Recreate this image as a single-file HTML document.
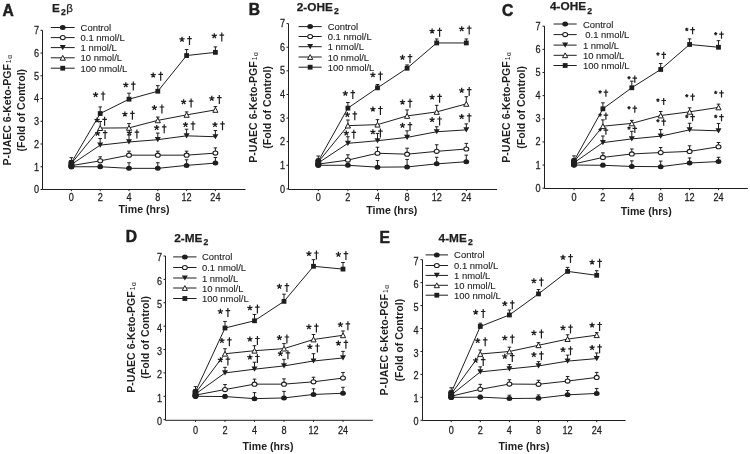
<!DOCTYPE html>
<html><head><meta charset="utf-8"><style>
html,body{margin:0;padding:0;background:#fff;}
svg{display:block;filter:grayscale(1);}
text{font-family:"Liberation Sans", sans-serif;fill:#1e1e1e;}
.r{stroke:#1e1e1e;stroke-width:0.25px;}
.r2{stroke:#1e1e1e;stroke-width:0.12px;}
</style></head><body>
<svg width="750" height="454" viewBox="0 0 750 454">
<rect width="750" height="454" fill="#fff"/>
<g><path d="M42.5 30.3V189.5H245.5" fill="none" stroke="#1e1e1e" stroke-width="1"/><path d="M40.5 189.5H42.5M40.5 166.76H42.5M40.5 144.01H42.5M40.5 121.27H42.5M40.5 98.53H42.5M40.5 75.79H42.5M40.5 53.04H42.5M40.5 30.3H42.5M71.4 189.5V191.1M100.2 189.5V191.1M129 189.5V191.1M157.8 189.5V191.1M186.6 189.5V191.1M215.4 189.5V191.1" stroke="#1e1e1e" stroke-width="1"/><text transform="translate(39 193.25) scale(0.86 1)" text-anchor="end" font-size="10.6" class="r">0</text><text transform="translate(39 170.51) scale(0.86 1)" text-anchor="end" font-size="10.6" class="r">1</text><text transform="translate(39 147.76) scale(0.86 1)" text-anchor="end" font-size="10.6" class="r">2</text><text transform="translate(39 125.02) scale(0.86 1)" text-anchor="end" font-size="10.6" class="r">3</text><text transform="translate(39 102.28) scale(0.86 1)" text-anchor="end" font-size="10.6" class="r">4</text><text transform="translate(39 79.54) scale(0.86 1)" text-anchor="end" font-size="10.6" class="r">5</text><text transform="translate(39 56.79) scale(0.86 1)" text-anchor="end" font-size="10.6" class="r">6</text><text transform="translate(39 34.05) scale(0.86 1)" text-anchor="end" font-size="10.6" class="r">7</text><text transform="translate(71.4 200.6) scale(0.86 1)" text-anchor="middle" font-size="10.6" class="r">0</text><text transform="translate(100.2 200.6) scale(0.86 1)" text-anchor="middle" font-size="10.6" class="r">2</text><text transform="translate(129 200.6) scale(0.86 1)" text-anchor="middle" font-size="10.6" class="r">4</text><text transform="translate(157.8 200.6) scale(0.86 1)" text-anchor="middle" font-size="10.6" class="r">8</text><text transform="translate(186.6 200.6) scale(0.86 1)" text-anchor="middle" font-size="10.6" class="r">12</text><text transform="translate(215.4 200.6) scale(0.86 1)" text-anchor="middle" font-size="10.6" class="r">24</text><text x="144.1" y="212.7" text-anchor="middle" font-size="10.6" font-weight="bold">Time (hrs)</text><text transform="translate(10.9 165.5) rotate(-90)" text-anchor="start" font-size="10.55" font-weight="bold">P-UAEC 6-Keto-PGF<tspan font-size="6.6" font-weight="normal" dx="1">1</tspan><tspan font-size="6.6" font-weight="normal" dx="0.6" dy="1.2">α</tspan></text><text transform="translate(24.8 110.2) rotate(-90)" text-anchor="middle" font-size="10.55" font-weight="bold">(Fold of Control)</text><text x="2.5" y="15.6" font-size="15.6" font-weight="bold" style="stroke:#1e1e1e;stroke-width:0.5px">A</text><text x="51.9" y="11.5" font-size="11.8" font-weight="bold" class="r">E<tspan font-size="8.6" dx="1.2" dy="3.4">2</tspan><tspan font-size="11.5" font-weight="normal" dx="0.6" dy="-3.4">β</tspan></text><path d="M50.8 27.5H74.7" stroke="#1e1e1e" stroke-width="1"/><ellipse cx="62.75" cy="27.5" rx="2.9" ry="2.5" fill="#1e1e1e"/><text transform="translate(80.6 31) scale(0.955 1)" font-size="9.9" class="r2">Control</text><path d="M50.8 37.6H74.7" stroke="#1e1e1e" stroke-width="1"/><ellipse cx="62.75" cy="37.6" rx="2.45" ry="2.05" fill="#fff" stroke="#1e1e1e" stroke-width="1.1"/><text transform="translate(80.6 41.1) scale(0.955 1)" font-size="9.9" class="r2">0.1 nmol/L</text><path d="M50.8 47.6H74.7" stroke="#1e1e1e" stroke-width="1"/><path d="M59.75 45H65.75L62.75 50.2Z" fill="#1e1e1e"/><text transform="translate(80.6 51.1) scale(0.955 1)" font-size="9.9" class="r2">1 nmol/L</text><path d="M50.8 57.8H74.7" stroke="#1e1e1e" stroke-width="1"/><path d="M60.15 60.2H65.35L62.75 55.4Z" fill="#fff" stroke="#1e1e1e" stroke-width="1" stroke-linejoin="miter"/><text transform="translate(80.6 61.3) scale(0.955 1)" font-size="9.9" class="r2">10 nmol/L</text><path d="M50.8 68.2H74.7" stroke="#1e1e1e" stroke-width="1"/><rect x="60.35" y="65.8" width="4.8" height="4.8" fill="#1e1e1e"/><text transform="translate(80.6 71.7) scale(0.955 1)" font-size="9.9" class="r2">100 nmol/L</text><polyline points="71.4,166.76 100.2,166.76 129,168.35 157.8,168.35 186.6,165.39 215.4,163.12" fill="none" stroke="#1e1e1e" stroke-width="1"/><polyline points="71.4,165.62 100.2,160.84 129,155.16 157.8,155.16 186.6,155.16 215.4,153.11" fill="none" stroke="#1e1e1e" stroke-width="1"/><polyline points="71.4,164.48 100.2,145.15 129,141.97 157.8,139.69 186.6,135.83 215.4,136.74" fill="none" stroke="#1e1e1e" stroke-width="1"/><polyline points="71.4,163.57 100.2,128.09 129,127.87 157.8,120.36 186.6,114.9 215.4,109.9" fill="none" stroke="#1e1e1e" stroke-width="1"/><polyline points="71.4,162.66 100.2,113.54 129,99.21 157.8,91.25 186.6,55.54 215.4,52.36" fill="none" stroke="#1e1e1e" stroke-width="1"/><path d="M71.4 166.76V164.76M69.6 164.76H73.2M100.2 166.76V164.76M98.4 164.76H102M129 168.35V162.75M127.2 162.75H130.8M157.8 168.35V162.75M156 162.75H159.6M186.6 165.39V159.79M184.8 159.79H188.4M215.4 163.12V157.52M213.6 157.52H217.2M71.4 165.62V163.62M69.6 163.62H73.2M100.2 160.84V156.84M98.4 156.84H102M129 155.16V151.16M127.2 151.16H130.8M157.8 155.16V151.16M156 151.16H159.6M186.6 155.16V151.16M184.8 151.16H188.4M215.4 153.11V147.91M213.6 147.91H217.2M71.4 164.48V162.48M69.6 162.48H73.2M100.2 145.15V138.55M98.4 138.55H102M129 141.97V134.97M127.2 134.97H130.8M157.8 139.69V133.09M156 133.09H159.6M186.6 135.83V129.23M184.8 129.23H188.4M215.4 136.74V130.54M213.6 130.54H217.2M71.4 163.57V160.57M69.6 160.57H73.2M100.2 128.09V121.49M98.4 121.49H102M129 127.87V123.57M127.2 123.57H130.8M157.8 120.36V117.06M156 117.06H159.6M186.6 114.9V111.9M184.8 111.9H188.4M215.4 109.9V106.6M213.6 106.6H217.2M71.4 162.66V157.66M69.6 157.66H73.2M100.2 113.54V106.94M98.4 106.94H102M129 99.21V93.21M127.2 93.21H130.8M157.8 91.25V85.65M156 85.65H159.6M186.6 55.54V49.54M184.8 49.54H188.4M215.4 52.36V46.86M213.6 46.86H217.2" stroke="#1e1e1e" stroke-width="1" fill="none"/><ellipse cx="71.4" cy="166.76" rx="2.9" ry="2.5" fill="#1e1e1e"/><ellipse cx="100.2" cy="166.76" rx="2.9" ry="2.5" fill="#1e1e1e"/><ellipse cx="129" cy="168.35" rx="2.9" ry="2.5" fill="#1e1e1e"/><ellipse cx="157.8" cy="168.35" rx="2.9" ry="2.5" fill="#1e1e1e"/><ellipse cx="186.6" cy="165.39" rx="2.9" ry="2.5" fill="#1e1e1e"/><ellipse cx="215.4" cy="163.12" rx="2.9" ry="2.5" fill="#1e1e1e"/><ellipse cx="71.4" cy="165.62" rx="2.45" ry="2.05" fill="#fff" stroke="#1e1e1e" stroke-width="1.1"/><ellipse cx="100.2" cy="160.84" rx="2.45" ry="2.05" fill="#fff" stroke="#1e1e1e" stroke-width="1.1"/><ellipse cx="129" cy="155.16" rx="2.45" ry="2.05" fill="#fff" stroke="#1e1e1e" stroke-width="1.1"/><ellipse cx="157.8" cy="155.16" rx="2.45" ry="2.05" fill="#fff" stroke="#1e1e1e" stroke-width="1.1"/><ellipse cx="186.6" cy="155.16" rx="2.45" ry="2.05" fill="#fff" stroke="#1e1e1e" stroke-width="1.1"/><ellipse cx="215.4" cy="153.11" rx="2.45" ry="2.05" fill="#fff" stroke="#1e1e1e" stroke-width="1.1"/><path d="M68.4 161.88H74.4L71.4 167.08Z" fill="#1e1e1e"/><path d="M97.2 142.55H103.2L100.2 147.75Z" fill="#1e1e1e"/><path d="M126 139.37H132L129 144.57Z" fill="#1e1e1e"/><path d="M154.8 137.09H160.8L157.8 142.29Z" fill="#1e1e1e"/><path d="M183.6 133.23H189.6L186.6 138.43Z" fill="#1e1e1e"/><path d="M212.4 134.14H218.4L215.4 139.34Z" fill="#1e1e1e"/><path d="M68.8 165.97H74L71.4 161.17Z" fill="#fff" stroke="#1e1e1e" stroke-width="1" stroke-linejoin="miter"/><path d="M97.6 130.49H102.8L100.2 125.69Z" fill="#fff" stroke="#1e1e1e" stroke-width="1" stroke-linejoin="miter"/><path d="M126.4 130.27H131.6L129 125.47Z" fill="#fff" stroke="#1e1e1e" stroke-width="1" stroke-linejoin="miter"/><path d="M155.2 122.76H160.4L157.8 117.96Z" fill="#fff" stroke="#1e1e1e" stroke-width="1" stroke-linejoin="miter"/><path d="M184 117.3H189.2L186.6 112.5Z" fill="#fff" stroke="#1e1e1e" stroke-width="1" stroke-linejoin="miter"/><path d="M212.8 112.3H218L215.4 107.5Z" fill="#fff" stroke="#1e1e1e" stroke-width="1" stroke-linejoin="miter"/><rect x="69" y="160.26" width="4.8" height="4.8" fill="#1e1e1e"/><rect x="97.8" y="111.14" width="4.8" height="4.8" fill="#1e1e1e"/><rect x="126.6" y="96.81" width="4.8" height="4.8" fill="#1e1e1e"/><rect x="155.4" y="88.85" width="4.8" height="4.8" fill="#1e1e1e"/><rect x="184.2" y="53.14" width="4.8" height="4.8" fill="#1e1e1e"/><rect x="213" y="49.96" width="4.8" height="4.8" fill="#1e1e1e"/><rect x="68.4" y="160.06" width="6" height="9.29" rx="2.8" ry="2.8" fill="#1e1e1e"/><path d="M97.6 133.4L97.6 130.7M97.6 133.4L100.17 132.57M97.6 133.4L95.03 132.57M97.6 133.4L99.19 135.58M97.6 133.4L96.01 135.58M129.4 132.9L129.4 130.2M129.4 132.9L131.97 132.07M129.4 132.9L126.83 132.07M129.4 132.9L130.99 135.08M129.4 132.9L127.81 135.08M156.7 127.7L156.7 125M156.7 127.7L159.27 126.87M156.7 127.7L154.13 126.87M156.7 127.7L158.29 129.88M156.7 127.7L155.11 129.88M185.5 124.7L185.5 122M185.5 124.7L188.07 123.87M185.5 124.7L182.93 123.87M185.5 124.7L187.09 126.88M185.5 124.7L183.91 126.88M215 124.7L215 122M215 124.7L217.57 123.87M215 124.7L212.43 123.87M215 124.7L216.59 126.88M215 124.7L213.41 126.88M97.1 120.2L97.1 117.5M97.1 120.2L99.67 119.37M97.1 120.2L94.53 119.37M97.1 120.2L98.69 122.38M97.1 120.2L95.51 122.38M124.9 114.2L124.9 111.5M124.9 114.2L127.47 113.37M124.9 114.2L122.33 113.37M124.9 114.2L126.49 116.38M124.9 114.2L123.31 116.38M154.4 107.8L154.4 105.1M154.4 107.8L156.97 106.97M154.4 107.8L151.83 106.97M154.4 107.8L155.99 109.98M154.4 107.8L152.81 109.98M183.6 101.9L183.6 99.2M183.6 101.9L186.17 101.07M183.6 101.9L181.03 101.07M183.6 101.9L185.19 104.08M183.6 101.9L182.01 104.08M211.8 98.5L211.8 95.8M211.8 98.5L214.37 97.67M211.8 98.5L209.23 97.67M211.8 98.5L213.39 100.68M211.8 98.5L210.21 100.68M95.6 94.8L95.6 92.1M95.6 94.8L98.17 93.97M95.6 94.8L93.03 93.97M95.6 94.8L97.19 96.98M95.6 94.8L94.01 96.98M125.8 84.9L125.8 82.2M125.8 84.9L128.37 84.07M125.8 84.9L123.23 84.07M125.8 84.9L127.39 87.08M125.8 84.9L124.21 87.08M153.2 75.1L153.2 72.4M153.2 75.1L155.77 74.27M153.2 75.1L150.63 74.27M153.2 75.1L154.79 77.28M153.2 75.1L151.61 77.28M182 39.4L182 36.7M182 39.4L184.57 38.57M182 39.4L179.43 38.57M182 39.4L183.59 41.58M182 39.4L180.41 41.58M214.3 35.9L214.3 33.2M214.3 35.9L216.87 35.07M214.3 35.9L211.73 35.07M214.3 35.9L215.89 38.08M214.3 35.9L212.71 38.08" stroke="#1e1e1e" stroke-width="1.3" fill="none"/><path d="M105.1 130V139M102.8 132.6H107.4M136.9 129.5V138.5M134.6 132.1H139.2M164.2 124.3V133.3M161.9 126.9H166.5M193 121.3V130.3M190.7 123.9H195.3M222.5 121.3V130.3M220.2 123.9H224.8M104.6 116.8V125.8M102.3 119.4H106.9M132.4 110.8V119.8M130.1 113.4H134.7M161.9 104.4V113.4M159.6 107H164.2M191.1 98.5V107.5M188.8 101.1H193.4M219.3 95.1V104.1M217 97.7H221.6M103.1 91.4V100.4M100.8 94H105.4M133.3 81.5V90.5M131 84.1H135.6M160.7 71.7V80.7M158.4 74.3H163M189.5 36V45M187.2 38.6H191.8M221.8 32.5V41.5M219.5 35.1H224.1" stroke="#1e1e1e" stroke-width="1.2" fill="none"/></g><g><path d="M288.5 23.6V189.5H497.1" fill="none" stroke="#1e1e1e" stroke-width="1"/><path d="M286.5 188.9H288.5M286.5 165.29H288.5M286.5 141.67H288.5M286.5 118.06H288.5M286.5 94.44H288.5M286.5 70.83H288.5M286.5 47.21H288.5M286.5 23.6H288.5M318.3 189.5V191.1M347.9 189.5V191.1M377.5 189.5V191.1M407.1 189.5V191.1M436.7 189.5V191.1M466.3 189.5V191.1" stroke="#1e1e1e" stroke-width="1"/><text transform="translate(285 192.55) scale(0.86 1)" text-anchor="end" font-size="10.6" class="r">0</text><text transform="translate(285 168.94) scale(0.86 1)" text-anchor="end" font-size="10.6" class="r">1</text><text transform="translate(285 145.32) scale(0.86 1)" text-anchor="end" font-size="10.6" class="r">2</text><text transform="translate(285 121.71) scale(0.86 1)" text-anchor="end" font-size="10.6" class="r">3</text><text transform="translate(285 98.09) scale(0.86 1)" text-anchor="end" font-size="10.6" class="r">4</text><text transform="translate(285 74.48) scale(0.86 1)" text-anchor="end" font-size="10.6" class="r">5</text><text transform="translate(285 50.86) scale(0.86 1)" text-anchor="end" font-size="10.6" class="r">6</text><text transform="translate(285 27.25) scale(0.86 1)" text-anchor="end" font-size="10.6" class="r">7</text><text transform="translate(318.3 201.2) scale(0.86 1)" text-anchor="middle" font-size="10.6" class="r">0</text><text transform="translate(347.9 201.2) scale(0.86 1)" text-anchor="middle" font-size="10.6" class="r">2</text><text transform="translate(377.5 201.2) scale(0.86 1)" text-anchor="middle" font-size="10.6" class="r">4</text><text transform="translate(407.1 201.2) scale(0.86 1)" text-anchor="middle" font-size="10.6" class="r">8</text><text transform="translate(436.7 201.2) scale(0.86 1)" text-anchor="middle" font-size="10.6" class="r">12</text><text transform="translate(466.3 201.2) scale(0.86 1)" text-anchor="middle" font-size="10.6" class="r">24</text><text x="391.8" y="213.9" text-anchor="middle" font-size="10.6" font-weight="bold">Time (hrs)</text><text transform="translate(256.6 162.7) rotate(-90)" text-anchor="start" font-size="10.55" font-weight="bold">P-UAEC 6-Keto-PGF<tspan font-size="6.6" font-weight="normal" dx="1">1</tspan><tspan font-size="6.6" font-weight="normal" dx="0.6" dy="1.2">α</tspan></text><text transform="translate(270.5 107.4) rotate(-90)" text-anchor="middle" font-size="10.55" font-weight="bold">(Fold of Control)</text><text x="248.8" y="15.2" font-size="15.6" font-weight="bold" style="stroke:#1e1e1e;stroke-width:0.5px">B</text><text x="296.8" y="11" font-size="11.8" font-weight="bold" class="r">2-OHE<tspan font-size="8.6" dx="1.2" dy="3.4">2</tspan></text><path d="M298.6 26.6H321.7" stroke="#1e1e1e" stroke-width="1"/><ellipse cx="310.15" cy="26.6" rx="2.9" ry="2.5" fill="#1e1e1e"/><text transform="translate(327.7 30.1) scale(0.955 1)" font-size="9.9" class="r2">Control</text><path d="M298.6 36.5H321.7" stroke="#1e1e1e" stroke-width="1"/><ellipse cx="310.15" cy="36.5" rx="2.45" ry="2.05" fill="#fff" stroke="#1e1e1e" stroke-width="1.1"/><text transform="translate(327.7 40) scale(0.955 1)" font-size="9.9" class="r2">0.1 nmol/L</text><path d="M298.6 46.7H321.7" stroke="#1e1e1e" stroke-width="1"/><path d="M307.15 44.1H313.15L310.15 49.3Z" fill="#1e1e1e"/><text transform="translate(327.7 50.2) scale(0.955 1)" font-size="9.9" class="r2">1 nmol/L</text><path d="M298.6 57H321.7" stroke="#1e1e1e" stroke-width="1"/><path d="M307.55 59.4H312.75L310.15 54.6Z" fill="#fff" stroke="#1e1e1e" stroke-width="1" stroke-linejoin="miter"/><text transform="translate(327.7 60.5) scale(0.955 1)" font-size="9.9" class="r2">10 nmol/L</text><path d="M298.6 67.2H321.7" stroke="#1e1e1e" stroke-width="1"/><rect x="307.75" y="64.8" width="4.8" height="4.8" fill="#1e1e1e"/><text transform="translate(327.7 70.7) scale(0.955 1)" font-size="9.9" class="r2">100 nmol/L</text><polyline points="318.3,165.29 347.9,165.29 377.5,167.17 407.1,166.94 436.7,163.87 466.3,161.74" fill="none" stroke="#1e1e1e" stroke-width="1"/><polyline points="318.3,164.1 347.9,160.09 377.5,153.24 407.1,154.19 436.7,151.35 466.3,148.99" fill="none" stroke="#1e1e1e" stroke-width="1"/><polyline points="318.3,162.92 347.9,143.32 377.5,140.73 407.1,137.42 436.7,131.75 466.3,129.86" fill="none" stroke="#1e1e1e" stroke-width="1"/><polyline points="318.3,161.98 347.9,125.61 377.5,124.67 407.1,115.93 436.7,111.92 466.3,103.89" fill="none" stroke="#1e1e1e" stroke-width="1"/><polyline points="318.3,161.04 347.9,108.14 377.5,87.83 407.1,68.23 436.7,42.96 466.3,42.96" fill="none" stroke="#1e1e1e" stroke-width="1"/><path d="M318.3 165.29V163.29M316.5 163.29H320.1M347.9 165.29V163.29M346.1 163.29H349.7M377.5 167.17V160.57M375.7 160.57H379.3M407.1 166.94V159.44M405.3 159.44H408.9M436.7 163.87V157.27M434.9 157.27H438.5M466.3 161.74V155.14M464.5 155.14H468.1M318.3 164.1V162.1M316.5 162.1H320.1M347.9 160.09V154.79M346.1 154.79H349.7M377.5 153.24V147.24M375.7 147.24H379.3M407.1 154.19V148.19M405.3 148.19H408.9M436.7 151.35V144.75M434.9 144.75H438.5M466.3 148.99V143.39M464.5 143.39H468.1M318.3 162.92V160.92M316.5 160.92H320.1M347.9 143.32V136.72M346.1 136.72H349.7M377.5 140.73V133.43M375.7 133.43H379.3M407.1 137.42V130.82M405.3 130.82H408.9M436.7 131.75V126.75M434.9 126.75H438.5M466.3 129.86V123.86M464.5 123.86H468.1M318.3 161.98V158.98M316.5 158.98H320.1M347.9 125.61V120.01M346.1 120.01H349.7M377.5 124.67V119.67M375.7 119.67H379.3M407.1 115.93V109.93M405.3 109.93H408.9M436.7 111.92V105.32M434.9 105.32H438.5M466.3 103.89V96.69M464.5 96.69H468.1M318.3 161.04V156.04M316.5 156.04H320.1M347.9 108.14V102.54M346.1 102.54H349.7M377.5 87.83V84.53M375.7 84.53H379.3M407.1 68.23V64.93M405.3 64.93H408.9M436.7 42.96V38.96M434.9 38.96H438.5M466.3 42.96V38.96M464.5 38.96H468.1" stroke="#1e1e1e" stroke-width="1" fill="none"/><ellipse cx="318.3" cy="165.29" rx="2.9" ry="2.5" fill="#1e1e1e"/><ellipse cx="347.9" cy="165.29" rx="2.9" ry="2.5" fill="#1e1e1e"/><ellipse cx="377.5" cy="167.17" rx="2.9" ry="2.5" fill="#1e1e1e"/><ellipse cx="407.1" cy="166.94" rx="2.9" ry="2.5" fill="#1e1e1e"/><ellipse cx="436.7" cy="163.87" rx="2.9" ry="2.5" fill="#1e1e1e"/><ellipse cx="466.3" cy="161.74" rx="2.9" ry="2.5" fill="#1e1e1e"/><ellipse cx="318.3" cy="164.1" rx="2.45" ry="2.05" fill="#fff" stroke="#1e1e1e" stroke-width="1.1"/><ellipse cx="347.9" cy="160.09" rx="2.45" ry="2.05" fill="#fff" stroke="#1e1e1e" stroke-width="1.1"/><ellipse cx="377.5" cy="153.24" rx="2.45" ry="2.05" fill="#fff" stroke="#1e1e1e" stroke-width="1.1"/><ellipse cx="407.1" cy="154.19" rx="2.45" ry="2.05" fill="#fff" stroke="#1e1e1e" stroke-width="1.1"/><ellipse cx="436.7" cy="151.35" rx="2.45" ry="2.05" fill="#fff" stroke="#1e1e1e" stroke-width="1.1"/><ellipse cx="466.3" cy="148.99" rx="2.45" ry="2.05" fill="#fff" stroke="#1e1e1e" stroke-width="1.1"/><path d="M315.3 160.32H321.3L318.3 165.52Z" fill="#1e1e1e"/><path d="M344.9 140.72H350.9L347.9 145.92Z" fill="#1e1e1e"/><path d="M374.5 138.13H380.5L377.5 143.33Z" fill="#1e1e1e"/><path d="M404.1 134.82H410.1L407.1 140.02Z" fill="#1e1e1e"/><path d="M433.7 129.15H439.7L436.7 134.35Z" fill="#1e1e1e"/><path d="M463.3 127.26H469.3L466.3 132.46Z" fill="#1e1e1e"/><path d="M315.7 164.38H320.9L318.3 159.58Z" fill="#fff" stroke="#1e1e1e" stroke-width="1" stroke-linejoin="miter"/><path d="M345.3 128.01H350.5L347.9 123.21Z" fill="#fff" stroke="#1e1e1e" stroke-width="1" stroke-linejoin="miter"/><path d="M374.9 127.07H380.1L377.5 122.27Z" fill="#fff" stroke="#1e1e1e" stroke-width="1" stroke-linejoin="miter"/><path d="M404.5 118.33H409.7L407.1 113.53Z" fill="#fff" stroke="#1e1e1e" stroke-width="1" stroke-linejoin="miter"/><path d="M434.1 114.32H439.3L436.7 109.52Z" fill="#fff" stroke="#1e1e1e" stroke-width="1" stroke-linejoin="miter"/><path d="M463.7 106.29H468.9L466.3 101.49Z" fill="#fff" stroke="#1e1e1e" stroke-width="1" stroke-linejoin="miter"/><rect x="315.9" y="158.64" width="4.8" height="4.8" fill="#1e1e1e"/><rect x="345.5" y="105.74" width="4.8" height="4.8" fill="#1e1e1e"/><rect x="375.1" y="85.43" width="4.8" height="4.8" fill="#1e1e1e"/><rect x="404.7" y="65.83" width="4.8" height="4.8" fill="#1e1e1e"/><rect x="434.3" y="40.56" width="4.8" height="4.8" fill="#1e1e1e"/><rect x="463.9" y="40.56" width="4.8" height="4.8" fill="#1e1e1e"/><rect x="315.3" y="158.44" width="6" height="9.45" rx="2.8" ry="2.8" fill="#1e1e1e"/><path d="M346.3 133.1L346.3 130.4M346.3 133.1L348.87 132.27M346.3 133.1L343.73 132.27M346.3 133.1L347.89 135.28M346.3 133.1L344.71 135.28M372.9 132L372.9 129.3M372.9 132L375.47 131.17M372.9 132L370.33 131.17M372.9 132L374.49 134.18M372.9 132L371.31 134.18M402.5 125.4L402.5 122.7M402.5 125.4L405.07 124.57M402.5 125.4L399.93 124.57M402.5 125.4L404.09 127.58M402.5 125.4L400.91 127.58M432.1 119.8L432.1 117.1M432.1 119.8L434.67 118.97M432.1 119.8L429.53 118.97M432.1 119.8L433.69 121.98M432.1 119.8L430.51 121.98M461.7 116.6L461.7 113.9M461.7 116.6L464.27 115.77M461.7 116.6L459.13 115.77M461.7 116.6L463.29 118.78M461.7 116.6L460.11 118.78M347.3 114.6L347.3 111.9M347.3 114.6L349.87 113.77M347.3 114.6L344.73 113.77M347.3 114.6L348.89 116.78M347.3 114.6L345.71 116.78M372.9 109.3L372.9 106.6M372.9 109.3L375.47 108.47M372.9 109.3L370.33 108.47M372.9 109.3L374.49 111.48M372.9 109.3L371.31 111.48M402.5 102.2L402.5 99.5M402.5 102.2L405.07 101.37M402.5 102.2L399.93 101.37M402.5 102.2L404.09 104.38M402.5 102.2L400.91 104.38M432.1 97.1L432.1 94.4M432.1 97.1L434.67 96.27M432.1 97.1L429.53 96.27M432.1 97.1L433.69 99.28M432.1 97.1L430.51 99.28M461.7 90.5L461.7 87.8M461.7 90.5L464.27 89.67M461.7 90.5L459.13 89.67M461.7 90.5L463.29 92.68M461.7 90.5L460.11 92.68M345.3 93.4L345.3 90.7M345.3 93.4L347.87 92.57M345.3 93.4L342.73 92.57M345.3 93.4L346.89 95.58M345.3 93.4L343.71 95.58M372.9 74.9L372.9 72.2M372.9 74.9L375.47 74.07M372.9 74.9L370.33 74.07M372.9 74.9L374.49 77.08M372.9 74.9L371.31 77.08M402.5 57.5L402.5 54.8M402.5 57.5L405.07 56.67M402.5 57.5L399.93 56.67M402.5 57.5L404.09 59.68M402.5 57.5L400.91 59.68M432.1 31.1L432.1 28.4M432.1 31.1L434.67 30.27M432.1 31.1L429.53 30.27M432.1 31.1L433.69 33.28M432.1 31.1L430.51 33.28M461.7 28.9L461.7 26.2M461.7 28.9L464.27 28.07M461.7 28.9L459.13 28.07M461.7 28.9L463.29 31.08M461.7 28.9L460.11 31.08" stroke="#1e1e1e" stroke-width="1.3" fill="none"/><path d="M353.8 129.7V138.7M351.5 132.3H356.1M380.4 128.6V137.6M378.1 131.2H382.7M410 122V131M407.7 124.6H412.3M439.6 116.4V125.4M437.3 119H441.9M469.2 113.2V122.2M466.9 115.8H471.5M354.8 111.2V120.2M352.5 113.8H357.1M380.4 105.9V114.9M378.1 108.5H382.7M410 98.8V107.8M407.7 101.4H412.3M439.6 93.7V102.7M437.3 96.3H441.9M469.2 87.1V96.1M466.9 89.7H471.5M352.8 90V99M350.5 92.6H355.1M380.4 71.5V80.5M378.1 74.1H382.7M410 54.1V63.1M407.7 56.7H412.3M439.6 27.7V36.7M437.3 30.3H441.9M469.2 25.5V34.5M466.9 28.1H471.5" stroke="#1e1e1e" stroke-width="1.2" fill="none"/></g><g><path d="M544.5 26.2V188.5H747.8" fill="none" stroke="#1e1e1e" stroke-width="1"/><path d="M542.5 188.2H544.5M542.5 165.06H544.5M542.5 141.91H544.5M542.5 118.77H544.5M542.5 95.63H544.5M542.5 72.49H544.5M542.5 49.34H544.5M542.5 26.2H544.5M574 188.5V190.1M602.9 188.5V190.1M631.8 188.5V190.1M660.7 188.5V190.1M689.6 188.5V190.1M718.5 188.5V190.1" stroke="#1e1e1e" stroke-width="1"/><text transform="translate(540.6 191.65) scale(0.86 1)" text-anchor="end" font-size="10.6" class="r">0</text><text transform="translate(540.6 168.51) scale(0.86 1)" text-anchor="end" font-size="10.6" class="r">1</text><text transform="translate(540.6 145.36) scale(0.86 1)" text-anchor="end" font-size="10.6" class="r">2</text><text transform="translate(540.6 122.22) scale(0.86 1)" text-anchor="end" font-size="10.6" class="r">3</text><text transform="translate(540.6 99.08) scale(0.86 1)" text-anchor="end" font-size="10.6" class="r">4</text><text transform="translate(540.6 75.94) scale(0.86 1)" text-anchor="end" font-size="10.6" class="r">5</text><text transform="translate(540.6 52.79) scale(0.86 1)" text-anchor="end" font-size="10.6" class="r">6</text><text transform="translate(540.6 29.65) scale(0.86 1)" text-anchor="end" font-size="10.6" class="r">7</text><text transform="translate(574 200.9) scale(0.86 1)" text-anchor="middle" font-size="10.6" class="r">0</text><text transform="translate(602.9 200.9) scale(0.86 1)" text-anchor="middle" font-size="10.6" class="r">2</text><text transform="translate(631.8 200.9) scale(0.86 1)" text-anchor="middle" font-size="10.6" class="r">4</text><text transform="translate(660.7 200.9) scale(0.86 1)" text-anchor="middle" font-size="10.6" class="r">8</text><text transform="translate(689.6 200.9) scale(0.86 1)" text-anchor="middle" font-size="10.6" class="r">12</text><text transform="translate(718.5 200.9) scale(0.86 1)" text-anchor="middle" font-size="10.6" class="r">24</text><text x="646.2" y="214.6" text-anchor="middle" font-size="10.6" font-weight="bold">Time (hrs)</text><text transform="translate(510 162.7) rotate(-90)" text-anchor="start" font-size="10.55" font-weight="bold">P-UAEC 6-Keto-PGF<tspan font-size="6.6" font-weight="normal" dx="1">1</tspan><tspan font-size="6.6" font-weight="normal" dx="0.6" dy="1.2">α</tspan></text><text transform="translate(524.6 107.4) rotate(-90)" text-anchor="middle" font-size="10.55" font-weight="bold">(Fold of Control)</text><text x="502" y="15.6" font-size="15.6" font-weight="bold" style="stroke:#1e1e1e;stroke-width:0.5px">C</text><text x="550" y="10.2" font-size="11.8" font-weight="bold" class="r">4-OHE<tspan font-size="8.6" dx="1.2" dy="3.4">2</tspan></text><path d="M553.6 24H576.7" stroke="#1e1e1e" stroke-width="1"/><ellipse cx="565.15" cy="24" rx="2.9" ry="2.5" fill="#1e1e1e"/><text transform="translate(582.9 27.5) scale(0.955 1)" font-size="9.9" class="r2">Control</text><path d="M553.6 34.6H576.7" stroke="#1e1e1e" stroke-width="1"/><ellipse cx="565.15" cy="34.6" rx="2.45" ry="2.05" fill="#fff" stroke="#1e1e1e" stroke-width="1.1"/><text transform="translate(585.3 38.1) scale(0.955 1)" font-size="9.9" class="r2">0.1 nmol/L</text><path d="M553.6 45.1H576.7" stroke="#1e1e1e" stroke-width="1"/><path d="M562.15 42.5H568.15L565.15 47.7Z" fill="#1e1e1e"/><text transform="translate(582.9 48.6) scale(0.955 1)" font-size="9.9" class="r2">1 nmol/L</text><path d="M553.6 55.3H576.7" stroke="#1e1e1e" stroke-width="1"/><path d="M562.55 57.7H567.75L565.15 52.9Z" fill="#fff" stroke="#1e1e1e" stroke-width="1" stroke-linejoin="miter"/><text transform="translate(582.9 58.8) scale(0.955 1)" font-size="9.9" class="r2">10 nmol/L</text><path d="M553.6 65.5H576.7" stroke="#1e1e1e" stroke-width="1"/><rect x="562.75" y="63.1" width="4.8" height="4.8" fill="#1e1e1e"/><text transform="translate(582.9 69) scale(0.955 1)" font-size="9.9" class="r2">100 nmol/L</text><polyline points="574,165.06 602.9,165.29 631.8,166.45 660.7,166.68 689.6,162.97 718.5,161.59" fill="none" stroke="#1e1e1e" stroke-width="1"/><polyline points="574,163.9 602.9,157.42 631.8,153.95 660.7,152.56 689.6,151.4 718.5,146.77" fill="none" stroke="#1e1e1e" stroke-width="1"/><polyline points="574,162.74 602.9,142.61 631.8,138.91 660.7,136.13 689.6,129.88 718.5,130.81" fill="none" stroke="#1e1e1e" stroke-width="1"/><polyline points="574,161.82 602.9,126.18 631.8,123.4 660.7,115.53 689.6,111.83 718.5,107.43" fill="none" stroke="#1e1e1e" stroke-width="1"/><polyline points="574,160.89 602.9,108.82 631.8,87.76 660.7,69.48 689.6,44.48 718.5,47.26" fill="none" stroke="#1e1e1e" stroke-width="1"/><path d="M574 165.06V163.06M572.2 163.06H575.8M602.9 165.29V163.29M601.1 163.29H604.7M631.8 166.45V160.85M630 160.85H633.6M660.7 166.68V161.08M658.9 161.08H662.5M689.6 162.97V157.97M687.8 157.97H691.4M718.5 161.59V157.29M716.7 157.29H720.3M574 163.9V161.9M572.2 161.9H575.8M602.9 157.42V152.82M601.1 152.82H604.7M631.8 153.95V148.95M630 148.95H633.6M660.7 152.56V147.56M658.9 147.56H662.5M689.6 151.4V145.8M687.8 145.8H691.4M718.5 146.77V142.47M716.7 142.47H720.3M574 162.74V160.74M572.2 160.74H575.8M602.9 142.61V136.01M601.1 136.01H604.7M631.8 138.91V131.31M630 131.31H633.6M660.7 136.13V129.53M658.9 129.53H662.5M689.6 129.88V123.28M687.8 123.28H691.4M718.5 130.81V123.51M716.7 123.51H720.3M574 161.82V158.82M572.2 158.82H575.8M602.9 126.18V119.88M601.1 119.88H604.7M631.8 123.4V120.4M630 120.4H633.6M660.7 115.53V111.53M658.9 111.53H662.5M689.6 111.83V107.83M687.8 107.83H691.4M718.5 107.43V104.13M716.7 104.13H720.3M574 160.89V155.89M572.2 155.89H575.8M602.9 108.82V102.82M601.1 102.82H604.7M631.8 87.76V81.16M630 81.16H633.6M660.7 69.48V63.48M658.9 63.48H662.5M689.6 44.48V38.88M687.8 38.88H691.4M718.5 47.26V40.66M716.7 40.66H720.3" stroke="#1e1e1e" stroke-width="1" fill="none"/><ellipse cx="574" cy="165.06" rx="2.9" ry="2.5" fill="#1e1e1e"/><ellipse cx="602.9" cy="165.29" rx="2.9" ry="2.5" fill="#1e1e1e"/><ellipse cx="631.8" cy="166.45" rx="2.9" ry="2.5" fill="#1e1e1e"/><ellipse cx="660.7" cy="166.68" rx="2.9" ry="2.5" fill="#1e1e1e"/><ellipse cx="689.6" cy="162.97" rx="2.9" ry="2.5" fill="#1e1e1e"/><ellipse cx="718.5" cy="161.59" rx="2.9" ry="2.5" fill="#1e1e1e"/><ellipse cx="574" cy="163.9" rx="2.45" ry="2.05" fill="#fff" stroke="#1e1e1e" stroke-width="1.1"/><ellipse cx="602.9" cy="157.42" rx="2.45" ry="2.05" fill="#fff" stroke="#1e1e1e" stroke-width="1.1"/><ellipse cx="631.8" cy="153.95" rx="2.45" ry="2.05" fill="#fff" stroke="#1e1e1e" stroke-width="1.1"/><ellipse cx="660.7" cy="152.56" rx="2.45" ry="2.05" fill="#fff" stroke="#1e1e1e" stroke-width="1.1"/><ellipse cx="689.6" cy="151.4" rx="2.45" ry="2.05" fill="#fff" stroke="#1e1e1e" stroke-width="1.1"/><ellipse cx="718.5" cy="146.77" rx="2.45" ry="2.05" fill="#fff" stroke="#1e1e1e" stroke-width="1.1"/><path d="M571 160.14H577L574 165.34Z" fill="#1e1e1e"/><path d="M599.9 140.01H605.9L602.9 145.21Z" fill="#1e1e1e"/><path d="M628.8 136.31H634.8L631.8 141.51Z" fill="#1e1e1e"/><path d="M657.7 133.53H663.7L660.7 138.73Z" fill="#1e1e1e"/><path d="M686.6 127.28H692.6L689.6 132.48Z" fill="#1e1e1e"/><path d="M715.5 128.21H721.5L718.5 133.41Z" fill="#1e1e1e"/><path d="M571.4 164.22H576.6L574 159.42Z" fill="#fff" stroke="#1e1e1e" stroke-width="1" stroke-linejoin="miter"/><path d="M600.3 128.58H605.5L602.9 123.78Z" fill="#fff" stroke="#1e1e1e" stroke-width="1" stroke-linejoin="miter"/><path d="M629.2 125.8H634.4L631.8 121Z" fill="#fff" stroke="#1e1e1e" stroke-width="1" stroke-linejoin="miter"/><path d="M658.1 117.93H663.3L660.7 113.13Z" fill="#fff" stroke="#1e1e1e" stroke-width="1" stroke-linejoin="miter"/><path d="M687 114.23H692.2L689.6 109.43Z" fill="#fff" stroke="#1e1e1e" stroke-width="1" stroke-linejoin="miter"/><path d="M715.9 109.83H721.1L718.5 105.03Z" fill="#fff" stroke="#1e1e1e" stroke-width="1" stroke-linejoin="miter"/><rect x="571.6" y="158.49" width="4.8" height="4.8" fill="#1e1e1e"/><rect x="600.5" y="106.42" width="4.8" height="4.8" fill="#1e1e1e"/><rect x="629.4" y="85.36" width="4.8" height="4.8" fill="#1e1e1e"/><rect x="658.3" y="67.08" width="4.8" height="4.8" fill="#1e1e1e"/><rect x="687.2" y="42.08" width="4.8" height="4.8" fill="#1e1e1e"/><rect x="716.1" y="44.86" width="4.8" height="4.8" fill="#1e1e1e"/><rect x="571" y="158.29" width="6" height="9.37" rx="2.8" ry="2.8" fill="#1e1e1e"/><path d="M600.1 129.8L600.1 128.1M600.1 129.8L601.72 129.27M600.1 129.8L598.48 129.27M600.1 129.8L601.1 131.18M600.1 129.8L599.1 131.18M629 128.1L629 126.4M629 128.1L630.62 127.57M629 128.1L627.38 127.57M629 128.1L630 129.48M629 128.1L628 129.48M657.9 120.8L657.9 119.1M657.9 120.8L659.52 120.27M657.9 120.8L656.28 120.27M657.9 120.8L658.9 122.18M657.9 120.8L656.9 122.18M686.8 116.4L686.8 114.7M686.8 116.4L688.42 115.87M686.8 116.4L685.18 115.87M686.8 116.4L687.8 117.78M686.8 116.4L685.8 117.78M715.7 116.4L715.7 114.7M715.7 116.4L717.32 115.87M715.7 116.4L714.08 115.87M715.7 116.4L716.7 117.78M715.7 116.4L714.7 117.78M600.1 114.9L600.1 113.2M600.1 114.9L601.72 114.37M600.1 114.9L598.48 114.37M600.1 114.9L601.1 116.28M600.1 114.9L599.1 116.28M629 107.8L629 106.1M629 107.8L630.62 107.27M629 107.8L627.38 107.27M629 107.8L630 109.18M629 107.8L628 109.18M657.9 100.2L657.9 98.5M657.9 100.2L659.52 99.67M657.9 100.2L656.28 99.67M657.9 100.2L658.9 101.58M657.9 100.2L656.9 101.58M686.8 95.8L686.8 94.1M686.8 95.8L688.42 95.27M686.8 95.8L685.18 95.27M686.8 95.8L687.8 97.18M686.8 95.8L685.8 97.18M715.7 92.5L715.7 90.8M715.7 92.5L717.32 91.97M715.7 92.5L714.08 91.97M715.7 92.5L716.7 93.88M715.7 92.5L714.7 93.88M600.1 91.9L600.1 90.2M600.1 91.9L601.72 91.37M600.1 91.9L598.48 91.37M600.1 91.9L601.1 93.28M600.1 91.9L599.1 93.28M629 77.8L629 76.1M629 77.8L630.62 77.27M629 77.8L627.38 77.27M629 77.8L630 79.18M629 77.8L628 79.18M657.9 54L657.9 52.3M657.9 54L659.52 53.47M657.9 54L656.28 53.47M657.9 54L658.9 55.38M657.9 54L656.9 55.38M686.8 29.4L686.8 27.7M686.8 29.4L688.42 28.87M686.8 29.4L685.18 28.87M686.8 29.4L687.8 30.78M686.8 29.4L685.8 30.78M715.7 33.8L715.7 32.1M715.7 33.8L717.32 33.27M715.7 33.8L714.08 33.27M715.7 33.8L716.7 35.18M715.7 33.8L714.7 35.18" stroke="#1e1e1e" stroke-width="1.2" fill="none"/><path d="M605.9 127.5V134.7M603.6 130.1H608.2M634.8 125.8V133M632.5 128.4H637.1M663.7 118.5V125.7M661.4 121.1H666M692.6 114.1V121.3M690.3 116.7H694.9M721.5 114.1V121.3M719.2 116.7H723.8M605.9 112.6V119.8M603.6 115.2H608.2M634.8 105.5V112.7M632.5 108.1H637.1M663.7 97.9V105.1M661.4 100.5H666M692.6 93.5V100.7M690.3 96.1H694.9M721.5 90.2V97.4M719.2 92.8H723.8M605.9 89.6V96.8M603.6 92.2H608.2M634.8 75.5V82.7M632.5 78.1H637.1M663.7 51.7V58.9M661.4 54.3H666M692.6 27.1V34.3M690.3 29.7H694.9M721.5 31.5V38.7M719.2 34.1H723.8" stroke="#1e1e1e" stroke-width="1.2" fill="none"/></g><g><path d="M165.5 256V420.3H372.9" fill="none" stroke="#1e1e1e" stroke-width="1"/><path d="M163.5 419.7H165.5M163.5 396.31H165.5M163.5 372.93H165.5M163.5 349.54H165.5M163.5 326.16H165.5M163.5 302.77H165.5M163.5 279.39H165.5M163.5 256H165.5M195.5 420.3V421.9M225 420.3V421.9M254.5 420.3V421.9M284 420.3V421.9M313.5 420.3V421.9M343 420.3V421.9" stroke="#1e1e1e" stroke-width="1"/><text transform="translate(162.1 425.1) scale(0.86 1)" text-anchor="end" font-size="10.6" class="r">0</text><text transform="translate(162.1 401.71) scale(0.86 1)" text-anchor="end" font-size="10.6" class="r">1</text><text transform="translate(162.1 378.33) scale(0.86 1)" text-anchor="end" font-size="10.6" class="r">2</text><text transform="translate(162.1 354.94) scale(0.86 1)" text-anchor="end" font-size="10.6" class="r">3</text><text transform="translate(162.1 331.56) scale(0.86 1)" text-anchor="end" font-size="10.6" class="r">4</text><text transform="translate(162.1 308.17) scale(0.86 1)" text-anchor="end" font-size="10.6" class="r">5</text><text transform="translate(162.1 284.79) scale(0.86 1)" text-anchor="end" font-size="10.6" class="r">6</text><text transform="translate(162.1 261.4) scale(0.86 1)" text-anchor="end" font-size="10.6" class="r">7</text><text transform="translate(195.5 433.6) scale(0.86 1)" text-anchor="middle" font-size="10.6" class="r">0</text><text transform="translate(225 433.6) scale(0.86 1)" text-anchor="middle" font-size="10.6" class="r">2</text><text transform="translate(254.5 433.6) scale(0.86 1)" text-anchor="middle" font-size="10.6" class="r">4</text><text transform="translate(284 433.6) scale(0.86 1)" text-anchor="middle" font-size="10.6" class="r">8</text><text transform="translate(313.5 433.6) scale(0.86 1)" text-anchor="middle" font-size="10.6" class="r">12</text><text transform="translate(343 433.6) scale(0.86 1)" text-anchor="middle" font-size="10.6" class="r">24</text><text x="268" y="449.5" text-anchor="middle" font-size="10.6" font-weight="bold">Time (hrs)</text><text transform="translate(134.6 392.7) rotate(-90)" text-anchor="start" font-size="10.55" font-weight="bold">P-UAEC 6-Keto-PGF<tspan font-size="6.6" font-weight="normal" dx="1">1</tspan><tspan font-size="6.6" font-weight="normal" dx="0.6" dy="1.2">α</tspan></text><text transform="translate(148.6 337.4) rotate(-90)" text-anchor="middle" font-size="10.55" font-weight="bold">(Fold of Control)</text><text x="125.7" y="242.2" font-size="15.6" font-weight="bold" style="stroke:#1e1e1e;stroke-width:0.5px">D</text><text x="174.2" y="242" font-size="11.8" font-weight="bold" class="r">2-ME<tspan font-size="8.6" dx="1.2" dy="3.4">2</tspan></text><path d="M173.2 256.9H196.5" stroke="#1e1e1e" stroke-width="1"/><ellipse cx="184.85" cy="256.9" rx="2.9" ry="2.5" fill="#1e1e1e"/><text transform="translate(202 260.4) scale(0.955 1)" font-size="9.9" class="r2">Control</text><path d="M173.2 267.5H196.5" stroke="#1e1e1e" stroke-width="1"/><ellipse cx="184.85" cy="267.5" rx="2.45" ry="2.05" fill="#fff" stroke="#1e1e1e" stroke-width="1.1"/><text transform="translate(202 271) scale(0.955 1)" font-size="9.9" class="r2">0.1 nmol/L</text><path d="M173.2 278H196.5" stroke="#1e1e1e" stroke-width="1"/><path d="M181.85 275.4H187.85L184.85 280.6Z" fill="#1e1e1e"/><text transform="translate(202 281.5) scale(0.955 1)" font-size="9.9" class="r2">1 nmol/L</text><path d="M173.2 288H196.5" stroke="#1e1e1e" stroke-width="1"/><path d="M182.25 290.4H187.45L184.85 285.6Z" fill="#fff" stroke="#1e1e1e" stroke-width="1" stroke-linejoin="miter"/><text transform="translate(202 291.5) scale(0.955 1)" font-size="9.9" class="r2">10 nmol/L</text><path d="M173.2 298.5H196.5" stroke="#1e1e1e" stroke-width="1"/><rect x="182.45" y="296.1" width="4.8" height="4.8" fill="#1e1e1e"/><text transform="translate(202 302) scale(0.955 1)" font-size="9.9" class="r2">100 nmol/L</text><polyline points="195.5,396.31 225,396.55 254.5,398.65 284,397.95 313.5,394.44 343,393.27" fill="none" stroke="#1e1e1e" stroke-width="1"/><polyline points="195.5,395.14 225,389.53 254.5,384.15 284,384.15 313.5,381.82 343,378.07" fill="none" stroke="#1e1e1e" stroke-width="1"/><polyline points="195.5,393.98 225,372.93 254.5,369.19 284,365.91 313.5,361 343,357.96" fill="none" stroke="#1e1e1e" stroke-width="1"/><polyline points="195.5,393.04 225,353.75 254.5,350.71 284,348.61 313.5,339.49 343,335.28" fill="none" stroke="#1e1e1e" stroke-width="1"/><polyline points="195.5,391.64 225,328.03 254.5,320.78 284,301.37 313.5,266.29 343,269.1" fill="none" stroke="#1e1e1e" stroke-width="1"/><path d="M195.5 396.31V394.31M193.7 394.31H197.3M225 396.55V394.55M223.2 394.55H226.8M254.5 398.65V392.65M252.7 392.65H256.3M284 397.95V391.35M282.2 391.35H285.8M313.5 394.44V388.84M311.7 388.84H315.3M343 393.27V387.27M341.2 387.27H344.8M195.5 395.14V393.14M193.7 393.14H197.3M225 389.53V384.53M223.2 384.53H226.8M254.5 384.15V379.15M252.7 379.15H256.3M284 384.15V378.85M282.2 378.85H285.8M313.5 381.82V377.22M311.7 377.22H315.3M343 378.07V372.47M341.2 372.47H344.8M195.5 393.98V391.98M193.7 391.98H197.3M225 372.93V367.33M223.2 367.33H226.8M254.5 369.19V362.19M252.7 362.19H256.3M284 365.91V359.31M282.2 359.31H285.8M313.5 361V353.7M311.7 353.7H315.3M343 357.96V351.36M341.2 351.36H344.8M195.5 393.04V390.04M193.7 390.04H197.3M225 353.75V348.75M223.2 348.75H226.8M254.5 350.71V345.71M252.7 345.71H256.3M284 348.61V343.61M282.2 343.61H285.8M313.5 339.49V334.49M311.7 334.49H315.3M343 335.28V330.98M341.2 330.98H344.8M195.5 391.64V386.64M193.7 386.64H197.3M225 328.03V321.43M223.2 321.43H226.8M254.5 320.78V314.48M252.7 314.48H256.3M284 301.37V294.17M282.2 294.17H285.8M313.5 266.29V259.69M311.7 259.69H315.3M343 269.1V262.5M341.2 262.5H344.8" stroke="#1e1e1e" stroke-width="1" fill="none"/><ellipse cx="195.5" cy="396.31" rx="2.9" ry="2.5" fill="#1e1e1e"/><ellipse cx="225" cy="396.55" rx="2.9" ry="2.5" fill="#1e1e1e"/><ellipse cx="254.5" cy="398.65" rx="2.9" ry="2.5" fill="#1e1e1e"/><ellipse cx="284" cy="397.95" rx="2.9" ry="2.5" fill="#1e1e1e"/><ellipse cx="313.5" cy="394.44" rx="2.9" ry="2.5" fill="#1e1e1e"/><ellipse cx="343" cy="393.27" rx="2.9" ry="2.5" fill="#1e1e1e"/><ellipse cx="195.5" cy="395.14" rx="2.45" ry="2.05" fill="#fff" stroke="#1e1e1e" stroke-width="1.1"/><ellipse cx="225" cy="389.53" rx="2.45" ry="2.05" fill="#fff" stroke="#1e1e1e" stroke-width="1.1"/><ellipse cx="254.5" cy="384.15" rx="2.45" ry="2.05" fill="#fff" stroke="#1e1e1e" stroke-width="1.1"/><ellipse cx="284" cy="384.15" rx="2.45" ry="2.05" fill="#fff" stroke="#1e1e1e" stroke-width="1.1"/><ellipse cx="313.5" cy="381.82" rx="2.45" ry="2.05" fill="#fff" stroke="#1e1e1e" stroke-width="1.1"/><ellipse cx="343" cy="378.07" rx="2.45" ry="2.05" fill="#fff" stroke="#1e1e1e" stroke-width="1.1"/><path d="M192.5 391.38H198.5L195.5 396.58Z" fill="#1e1e1e"/><path d="M222 370.33H228L225 375.53Z" fill="#1e1e1e"/><path d="M251.5 366.59H257.5L254.5 371.79Z" fill="#1e1e1e"/><path d="M281 363.31H287L284 368.51Z" fill="#1e1e1e"/><path d="M310.5 358.4H316.5L313.5 363.6Z" fill="#1e1e1e"/><path d="M340 355.36H346L343 360.56Z" fill="#1e1e1e"/><path d="M192.9 395.44H198.1L195.5 390.64Z" fill="#fff" stroke="#1e1e1e" stroke-width="1" stroke-linejoin="miter"/><path d="M222.4 356.15H227.6L225 351.35Z" fill="#fff" stroke="#1e1e1e" stroke-width="1" stroke-linejoin="miter"/><path d="M251.9 353.11H257.1L254.5 348.31Z" fill="#fff" stroke="#1e1e1e" stroke-width="1" stroke-linejoin="miter"/><path d="M281.4 351.01H286.6L284 346.21Z" fill="#fff" stroke="#1e1e1e" stroke-width="1" stroke-linejoin="miter"/><path d="M310.9 341.89H316.1L313.5 337.09Z" fill="#fff" stroke="#1e1e1e" stroke-width="1" stroke-linejoin="miter"/><path d="M340.4 337.68H345.6L343 332.88Z" fill="#fff" stroke="#1e1e1e" stroke-width="1" stroke-linejoin="miter"/><rect x="193.1" y="389.24" width="4.8" height="4.8" fill="#1e1e1e"/><rect x="222.6" y="325.63" width="4.8" height="4.8" fill="#1e1e1e"/><rect x="252.1" y="318.38" width="4.8" height="4.8" fill="#1e1e1e"/><rect x="281.6" y="298.97" width="4.8" height="4.8" fill="#1e1e1e"/><rect x="311.1" y="263.89" width="4.8" height="4.8" fill="#1e1e1e"/><rect x="340.6" y="266.7" width="4.8" height="4.8" fill="#1e1e1e"/><rect x="192.5" y="389.04" width="6" height="9.88" rx="2.8" ry="2.8" fill="#1e1e1e"/><path d="M220.4 360L220.4 357.3M220.4 360L222.97 359.17M220.4 360L217.83 359.17M220.4 360L221.99 362.18M220.4 360L218.81 362.18M249.9 357.3L249.9 354.6M249.9 357.3L252.47 356.47M249.9 357.3L247.33 356.47M249.9 357.3L251.49 359.48M249.9 357.3L248.31 359.48M280.4 353.7L280.4 351M280.4 353.7L282.97 352.87M280.4 353.7L277.83 352.87M280.4 353.7L281.99 355.88M280.4 353.7L278.81 355.88M309.9 346.8L309.9 344.1M309.9 346.8L312.47 345.97M309.9 346.8L307.33 345.97M309.9 346.8L311.49 348.98M309.9 346.8L308.31 348.98M338.4 343.2L338.4 340.5M338.4 343.2L340.97 342.37M338.4 343.2L335.83 342.37M338.4 343.2L339.99 345.38M338.4 343.2L336.81 345.38M221.9 340.6L221.9 337.9M221.9 340.6L224.47 339.77M221.9 340.6L219.33 339.77M221.9 340.6L223.49 342.78M221.9 340.6L220.31 342.78M249.9 339.3L249.9 336.6M249.9 339.3L252.47 338.47M249.9 339.3L247.33 338.47M249.9 339.3L251.49 341.48M249.9 339.3L248.31 341.48M279.4 337.8L279.4 335.1M279.4 337.8L281.97 336.97M279.4 337.8L276.83 336.97M279.4 337.8L280.99 339.98M279.4 337.8L277.81 339.98M308.9 326.9L308.9 324.2M308.9 326.9L311.47 326.07M308.9 326.9L306.33 326.07M308.9 326.9L310.49 329.08M308.9 326.9L307.31 329.08M340.4 324.6L340.4 321.9M340.4 324.6L342.97 323.77M340.4 324.6L337.83 323.77M340.4 324.6L341.99 326.78M340.4 324.6L338.81 326.78M220.4 311.5L220.4 308.8M220.4 311.5L222.97 310.67M220.4 311.5L217.83 310.67M220.4 311.5L221.99 313.68M220.4 311.5L218.81 313.68M249.9 308L249.9 305.3M249.9 308L252.47 307.17M249.9 308L247.33 307.17M249.9 308L251.49 310.18M249.9 308L248.31 310.18M279.4 286.4L279.4 283.7M279.4 286.4L281.97 285.57M279.4 286.4L276.83 285.57M279.4 286.4L280.99 288.58M279.4 286.4L277.81 288.58M308.9 253.8L308.9 251.1M308.9 253.8L311.47 252.97M308.9 253.8L306.33 252.97M308.9 253.8L310.49 255.98M308.9 253.8L307.31 255.98M338.4 254.5L338.4 251.8M338.4 254.5L340.97 253.67M338.4 254.5L335.83 253.67M338.4 254.5L339.99 256.68M338.4 254.5L336.81 256.68" stroke="#1e1e1e" stroke-width="1.3" fill="none"/><path d="M227.9 356.6V365.6M225.6 359.2H230.2M257.4 353.9V362.9M255.1 356.5H259.7M287.9 350.3V359.3M285.6 352.9H290.2M317.4 343.4V352.4M315.1 346H319.7M345.9 339.8V348.8M343.6 342.4H348.2M229.4 337.2V346.2M227.1 339.8H231.7M257.4 335.9V344.9M255.1 338.5H259.7M286.9 334.4V343.4M284.6 337H289.2M316.4 323.5V332.5M314.1 326.1H318.7M347.9 321.2V330.2M345.6 323.8H350.2M227.9 308.1V317.1M225.6 310.7H230.2M257.4 304.6V313.6M255.1 307.2H259.7M286.9 283V292M284.6 285.6H289.2M316.4 250.4V259.4M314.1 253H318.7M345.9 251.1V260.1M343.6 253.7H348.2" stroke="#1e1e1e" stroke-width="1.2" fill="none"/></g><g><path d="M422.5 259.7V420.5H625.6" fill="none" stroke="#1e1e1e" stroke-width="1"/><path d="M420.5 420.3H422.5M420.5 397.36H422.5M420.5 374.41H422.5M420.5 351.47H422.5M420.5 328.53H422.5M420.5 305.59H422.5M420.5 282.64H422.5M420.5 259.7H422.5M451.2 420.5V422.1M480.3 420.5V422.1M509.4 420.5V422.1M538.5 420.5V422.1M567.6 420.5V422.1M596.7 420.5V422.1" stroke="#1e1e1e" stroke-width="1"/><text transform="translate(418.6 425.35) scale(0.86 1)" text-anchor="end" font-size="10.6" class="r">0</text><text transform="translate(418.6 402.41) scale(0.86 1)" text-anchor="end" font-size="10.6" class="r">1</text><text transform="translate(418.6 379.46) scale(0.86 1)" text-anchor="end" font-size="10.6" class="r">2</text><text transform="translate(418.6 356.52) scale(0.86 1)" text-anchor="end" font-size="10.6" class="r">3</text><text transform="translate(418.6 333.58) scale(0.86 1)" text-anchor="end" font-size="10.6" class="r">4</text><text transform="translate(418.6 310.64) scale(0.86 1)" text-anchor="end" font-size="10.6" class="r">5</text><text transform="translate(418.6 287.69) scale(0.86 1)" text-anchor="end" font-size="10.6" class="r">6</text><text transform="translate(418.6 264.75) scale(0.86 1)" text-anchor="end" font-size="10.6" class="r">7</text><text transform="translate(451.2 433.6) scale(0.86 1)" text-anchor="middle" font-size="10.6" class="r">0</text><text transform="translate(480.3 433.6) scale(0.86 1)" text-anchor="middle" font-size="10.6" class="r">2</text><text transform="translate(509.4 433.6) scale(0.86 1)" text-anchor="middle" font-size="10.6" class="r">4</text><text transform="translate(538.5 433.6) scale(0.86 1)" text-anchor="middle" font-size="10.6" class="r">8</text><text transform="translate(567.6 433.6) scale(0.86 1)" text-anchor="middle" font-size="10.6" class="r">12</text><text transform="translate(596.7 433.6) scale(0.86 1)" text-anchor="middle" font-size="10.6" class="r">24</text><text x="524" y="450.1" text-anchor="middle" font-size="10.6" font-weight="bold">Time (hrs)</text><text transform="translate(388.1 395.4) rotate(-90)" text-anchor="start" font-size="10.55" font-weight="bold">P-UAEC 6-Keto-PGF<tspan font-size="6.6" font-weight="normal" dx="1">1</tspan><tspan font-size="6.6" font-weight="normal" dx="0.6" dy="1.2">α</tspan></text><text transform="translate(402.7 340.1) rotate(-90)" text-anchor="middle" font-size="10.55" font-weight="bold">(Fold of Control)</text><text x="379.6" y="242.9" font-size="15.6" font-weight="bold" style="stroke:#1e1e1e;stroke-width:0.5px">E</text><text x="438.6" y="242" font-size="11.8" font-weight="bold" class="r">4-ME<tspan font-size="8.6" dx="1.2" dy="3.4">2</tspan></text><path d="M425.6 254.9H448" stroke="#1e1e1e" stroke-width="1"/><ellipse cx="436.8" cy="254.9" rx="2.9" ry="2.5" fill="#1e1e1e"/><text transform="translate(454.1 258.4) scale(0.955 1)" font-size="9.9" class="r2">Control</text><path d="M425.6 265.5H448" stroke="#1e1e1e" stroke-width="1"/><ellipse cx="436.8" cy="265.5" rx="2.45" ry="2.05" fill="#fff" stroke="#1e1e1e" stroke-width="1.1"/><text transform="translate(454.1 269) scale(0.955 1)" font-size="9.9" class="r2">0.1 nmol/L</text><path d="M425.6 275.4H448" stroke="#1e1e1e" stroke-width="1"/><path d="M433.8 272.8H439.8L436.8 278Z" fill="#1e1e1e"/><text transform="translate(454.1 278.9) scale(0.955 1)" font-size="9.9" class="r2">1 nmol/L</text><path d="M425.6 285.3H448" stroke="#1e1e1e" stroke-width="1"/><path d="M434.2 287.7H439.4L436.8 282.9Z" fill="#fff" stroke="#1e1e1e" stroke-width="1" stroke-linejoin="miter"/><text transform="translate(454.1 288.8) scale(0.955 1)" font-size="9.9" class="r2">10 nmol/L</text><path d="M425.6 295.2H448" stroke="#1e1e1e" stroke-width="1"/><rect x="434.4" y="292.8" width="4.8" height="4.8" fill="#1e1e1e"/><text transform="translate(454.1 298.7) scale(0.955 1)" font-size="9.9" class="r2">100 nmol/L</text><polyline points="451.2,397.36 480.3,397.13 509.4,398.5 538.5,398.27 567.6,394.83 596.7,393.46" fill="none" stroke="#1e1e1e" stroke-width="1"/><polyline points="451.2,396.21 480.3,389.33 509.4,384.05 538.5,384.28 567.6,381.07 596.7,377.4" fill="none" stroke="#1e1e1e" stroke-width="1"/><polyline points="451.2,395.06 480.3,371.89 509.4,368.91 538.5,365.93 567.6,361.11 596.7,358.58" fill="none" stroke="#1e1e1e" stroke-width="1"/><polyline points="451.2,394.15 480.3,354 509.4,351.47 538.5,345.28 567.6,339.08 596.7,335.18" fill="none" stroke="#1e1e1e" stroke-width="1"/><polyline points="451.2,392.77 480.3,326.46 509.4,314.99 538.5,293.88 567.6,271.4 596.7,275.3" fill="none" stroke="#1e1e1e" stroke-width="1"/><path d="M451.2 397.36V395.36M449.4 395.36H453M480.3 397.13V395.13M478.5 395.13H482.1M509.4 398.5V395.2M507.6 395.2H511.2M538.5 398.27V394.97M536.7 394.97H540.3M567.6 394.83V390.53M565.8 390.53H569.4M596.7 393.46V388.46M594.9 388.46H598.5M451.2 396.21V394.21M449.4 394.21H453M480.3 389.33V384.33M478.5 384.33H482.1M509.4 384.05V379.75M507.6 379.75H511.2M538.5 384.28V380.28M536.7 380.28H540.3M567.6 381.07V376.47M565.8 376.47H569.4M596.7 377.4V372.4M594.9 372.4H598.5M451.2 395.06V393.06M449.4 393.06H453M480.3 371.89V366.89M478.5 366.89H482.1M509.4 368.91V364.61M507.6 364.61H511.2M538.5 365.93V361.63M536.7 361.63H540.3M567.6 361.11V355.11M565.8 355.11H569.4M596.7 358.58V352.98M594.9 352.98H598.5M451.2 394.15V391.15M449.4 391.15H453M480.3 354V350M478.5 350H482.1M509.4 351.47V347.17M507.6 347.17H511.2M538.5 345.28V342.68M536.7 342.68H540.3M567.6 339.08V334.78M565.8 334.78H569.4M596.7 335.18V332.58M594.9 332.58H598.5M451.2 392.77V387.77M449.4 387.77H453M480.3 326.46V323.16M478.5 323.16H482.1M509.4 314.99V309.99M507.6 309.99H511.2M538.5 293.88V289.58M536.7 289.58H540.3M567.6 271.4V267.4M565.8 267.4H569.4M596.7 275.3V270.7M594.9 270.7H598.5" stroke="#1e1e1e" stroke-width="1" fill="none"/><ellipse cx="451.2" cy="397.36" rx="2.9" ry="2.5" fill="#1e1e1e"/><ellipse cx="480.3" cy="397.13" rx="2.9" ry="2.5" fill="#1e1e1e"/><ellipse cx="509.4" cy="398.5" rx="2.9" ry="2.5" fill="#1e1e1e"/><ellipse cx="538.5" cy="398.27" rx="2.9" ry="2.5" fill="#1e1e1e"/><ellipse cx="567.6" cy="394.83" rx="2.9" ry="2.5" fill="#1e1e1e"/><ellipse cx="596.7" cy="393.46" rx="2.9" ry="2.5" fill="#1e1e1e"/><ellipse cx="451.2" cy="396.21" rx="2.45" ry="2.05" fill="#fff" stroke="#1e1e1e" stroke-width="1.1"/><ellipse cx="480.3" cy="389.33" rx="2.45" ry="2.05" fill="#fff" stroke="#1e1e1e" stroke-width="1.1"/><ellipse cx="509.4" cy="384.05" rx="2.45" ry="2.05" fill="#fff" stroke="#1e1e1e" stroke-width="1.1"/><ellipse cx="538.5" cy="384.28" rx="2.45" ry="2.05" fill="#fff" stroke="#1e1e1e" stroke-width="1.1"/><ellipse cx="567.6" cy="381.07" rx="2.45" ry="2.05" fill="#fff" stroke="#1e1e1e" stroke-width="1.1"/><ellipse cx="596.7" cy="377.4" rx="2.45" ry="2.05" fill="#fff" stroke="#1e1e1e" stroke-width="1.1"/><path d="M448.2 392.46H454.2L451.2 397.66Z" fill="#1e1e1e"/><path d="M477.3 369.29H483.3L480.3 374.49Z" fill="#1e1e1e"/><path d="M506.4 366.31H512.4L509.4 371.51Z" fill="#1e1e1e"/><path d="M535.5 363.33H541.5L538.5 368.53Z" fill="#1e1e1e"/><path d="M564.6 358.51H570.6L567.6 363.71Z" fill="#1e1e1e"/><path d="M593.7 355.98H599.7L596.7 361.18Z" fill="#1e1e1e"/><path d="M448.6 396.55H453.8L451.2 391.75Z" fill="#fff" stroke="#1e1e1e" stroke-width="1" stroke-linejoin="miter"/><path d="M477.7 356.4H482.9L480.3 351.6Z" fill="#fff" stroke="#1e1e1e" stroke-width="1" stroke-linejoin="miter"/><path d="M506.8 353.87H512L509.4 349.07Z" fill="#fff" stroke="#1e1e1e" stroke-width="1" stroke-linejoin="miter"/><path d="M535.9 347.68H541.1L538.5 342.88Z" fill="#fff" stroke="#1e1e1e" stroke-width="1" stroke-linejoin="miter"/><path d="M565 341.48H570.2L567.6 336.68Z" fill="#fff" stroke="#1e1e1e" stroke-width="1" stroke-linejoin="miter"/><path d="M594.1 337.58H599.3L596.7 332.78Z" fill="#fff" stroke="#1e1e1e" stroke-width="1" stroke-linejoin="miter"/><rect x="448.8" y="390.37" width="4.8" height="4.8" fill="#1e1e1e"/><rect x="477.9" y="324.06" width="4.8" height="4.8" fill="#1e1e1e"/><rect x="507" y="312.59" width="4.8" height="4.8" fill="#1e1e1e"/><rect x="536.1" y="291.48" width="4.8" height="4.8" fill="#1e1e1e"/><rect x="565.2" y="269" width="4.8" height="4.8" fill="#1e1e1e"/><rect x="594.3" y="272.9" width="4.8" height="4.8" fill="#1e1e1e"/><rect x="448.2" y="390.17" width="6" height="9.79" rx="2.8" ry="2.8" fill="#1e1e1e"/><path d="M475.7 360.5L475.7 357.8M475.7 360.5L478.27 359.67M475.7 360.5L473.13 359.67M475.7 360.5L477.29 362.68M475.7 360.5L474.11 362.68M504.8 356.5L504.8 353.8M504.8 356.5L507.37 355.67M504.8 356.5L502.23 355.67M504.8 356.5L506.39 358.68M504.8 356.5L503.21 358.68M533.9 354.7L533.9 352M533.9 354.7L536.47 353.87M533.9 354.7L531.33 353.87M533.9 354.7L535.49 356.88M533.9 354.7L532.31 356.88M563 349.7L563 347M563 349.7L565.57 348.87M563 349.7L560.43 348.87M563 349.7L564.59 351.88M563 349.7L561.41 351.88M592.1 347.7L592.1 345M592.1 347.7L594.67 346.87M592.1 347.7L589.53 346.87M592.1 347.7L593.69 349.88M592.1 347.7L590.51 349.88M477.7 340.6L477.7 337.9M477.7 340.6L480.27 339.77M477.7 340.6L475.13 339.77M477.7 340.6L479.29 342.78M477.7 340.6L476.11 342.78M504.8 338L504.8 335.3M504.8 338L507.37 337.17M504.8 338L502.23 337.17M504.8 338L506.39 340.18M504.8 338L503.21 340.18M533.9 332.9L533.9 330.2M533.9 332.9L536.47 332.07M533.9 332.9L531.33 332.07M533.9 332.9L535.49 335.08M533.9 332.9L532.31 335.08M563 327.9L563 325.2M563 327.9L565.57 327.07M563 327.9L560.43 327.07M563 327.9L564.59 330.08M563 327.9L561.41 330.08M592.1 325.3L592.1 322.6M592.1 325.3L594.67 324.47M592.1 325.3L589.53 324.47M592.1 325.3L593.69 327.48M592.1 325.3L590.51 327.48M475.7 312.3L475.7 309.6M475.7 312.3L478.27 311.47M475.7 312.3L473.13 311.47M475.7 312.3L477.29 314.48M475.7 312.3L474.11 314.48M504.8 303.6L504.8 300.9M504.8 303.6L507.37 302.77M504.8 303.6L502.23 302.77M504.8 303.6L506.39 305.78M504.8 303.6L503.21 305.78M533.9 280.9L533.9 278.2M533.9 280.9L536.47 280.07M533.9 280.9L531.33 280.07M533.9 280.9L535.49 283.08M533.9 280.9L532.31 283.08M563 257.4L563 254.7M563 257.4L565.57 256.57M563 257.4L560.43 256.57M563 257.4L564.59 259.58M563 257.4L561.41 259.58M592.1 262.2L592.1 259.5M592.1 262.2L594.67 261.37M592.1 262.2L589.53 261.37M592.1 262.2L593.69 264.38M592.1 262.2L590.51 264.38" stroke="#1e1e1e" stroke-width="1.3" fill="none"/><path d="M483.2 357.1V366.1M480.9 359.7H485.5M512.3 353.1V362.1M510 355.7H514.6M541.4 351.3V360.3M539.1 353.9H543.7M570.5 346.3V355.3M568.2 348.9H572.8M599.6 344.3V353.3M597.3 346.9H601.9M485.2 337.2V346.2M482.9 339.8H487.5M512.3 334.6V343.6M510 337.2H514.6M541.4 329.5V338.5M539.1 332.1H543.7M570.5 324.5V333.5M568.2 327.1H572.8M599.6 321.9V330.9M597.3 324.5H601.9M483.2 308.9V317.9M480.9 311.5H485.5M512.3 300.2V309.2M510 302.8H514.6M541.4 277.5V286.5M539.1 280.1H543.7M570.5 254V263M568.2 256.6H572.8M599.6 258.8V267.8M597.3 261.4H601.9" stroke="#1e1e1e" stroke-width="1.2" fill="none"/></g>
</svg></body></html>
